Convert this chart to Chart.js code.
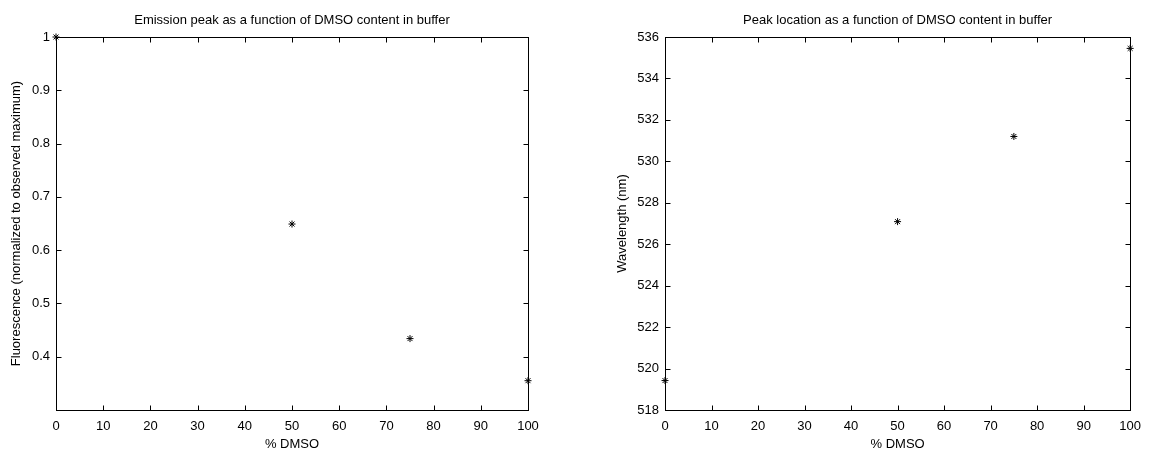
<!DOCTYPE html>
<html>
<head>
<meta charset="utf-8">
<script src="https://cdn.jsdelivr.net/npm/chart.js@4/dist/chart.umd.min.js"></script>
<style>
  html, body { margin: 0; padding: 0; background: #fff; }
  .box { position: absolute; top: 0; width: 575px; height: 452px; }
  #leftBox { left: 0; }
  #rightBox { left: 575px; }
</style>
</head>
<body>
<div class="box" id="leftBox"><canvas id="emissionChart"></canvas></div>
<div class="box" id="rightBox"><canvas id="peakChart"></canvas></div>
<script>
// --- data ---
const dmso = [0, 50, 75, 100];
const fluorescence = [1.0, 0.649, 0.434, 0.355];
const wavelength = [519.42, 527.09, 531.2, 535.45];

const xTicks = [0, 10, 20, 30, 40, 50, 60, 70, 80, 90, 100];
const fluorTicks = [0.4, 0.5, 0.6, 0.7, 0.8, 0.9, 1];
const waveTicks = [518, 520, 522, 524, 526, 528, 530, 532, 534, 536];

const FONT = 'Liberation Sans, Arial, Helvetica, sans-serif';
const FS = 13;

// box + inward ticks + title, matlab style
const matlabBox = {
  id: 'matlabBox',
  afterDraw(chart, args, opts) {
    const { ctx, chartArea: a, scales } = chart;
    const L = Math.round(a.left) + 0.5, R = Math.round(a.right) + 0.5;
    const T = Math.round(a.top) + 0.5, B = Math.round(a.bottom) + 0.5;
    ctx.save();
    ctx.strokeStyle = '#000';
    ctx.lineWidth = 1;
    ctx.strokeRect(L, T, R - L, B - T);
    ctx.beginPath();
    scales.x.ticks.forEach(t => {
      const px = Math.round(scales.x.getPixelForValue(t.value)) + 0.5;
      ctx.moveTo(px, B); ctx.lineTo(px, B - 5);
      ctx.moveTo(px, T); ctx.lineTo(px, T + 5);
    });
    scales.y.ticks.forEach(t => {
      const py = Math.round(scales.y.getPixelForValue(t.value)) + 0.5;
      ctx.moveTo(L, py); ctx.lineTo(L + 5, py);
      ctx.moveTo(R, py); ctx.lineTo(R - 5, py);
    });
    ctx.stroke();

    ctx.fillStyle = '#000';
    ctx.font = FS + 'px ' + FONT;
    ctx.textAlign = 'center';
    ctx.textBaseline = 'middle';
    ctx.fillText(opts.text, (a.left + a.right) / 2, 20);
    ctx.restore();
  }
};

function makeChart(id, yData, yTicks, yMin, yMax, yTitle, titleText, yWidth, padRight, yTitlePad) {
  const ctx = document.getElementById(id).getContext('2d');
  return new Chart(ctx, {
    type: 'scatter',
    data: {
      datasets: [{
        data: dmso.map((x, i) => ({ x, y: yData[i] })),
        pointStyle: 'star',
        pointRadius: 3.5,
        pointHoverRadius: 3.5,
        borderColor: '#000',
        backgroundColor: '#000',
        borderWidth: 1,
        showLine: false,
        clip: false
      }]
    },
    options: {
      responsive: true,
      maintainAspectRatio: false,
      animation: false,
      events: [],
      layout: { padding: { top: 37, right: padRight, bottom: 0, left: 0 } },
      plugins: {
        legend: { display: false },
        tooltip: { enabled: false },
        matlabBox: { text: titleText }
      },
      scales: {
        x: {
          type: 'linear',
          min: 0,
          max: 100,
          afterBuildTicks: s => { s.ticks = xTicks.map(v => ({ value: v })); },
          afterFit: s => { s.height = 42; },
          grid: { display: false, drawTicks: false },
          border: { display: false },
          ticks: { color: '#000', padding: 9, font: { family: FONT, size: FS }, maxRotation: 0 },
          title: { display: true, text: '% DMSO', color: '#000', padding: { top: 0, bottom: 0 }, font: { family: FONT, size: FS } }
        },
        y: {
          type: 'linear',
          min: yMin,
          max: yMax,
          afterBuildTicks: s => { s.ticks = yTicks.map(v => ({ value: v })); },
          afterFit: s => { s.width = yWidth; },
          grid: { display: false, drawTicks: false },
          border: { display: false },
          ticks: { color: '#000', padding: 6, font: { family: FONT, size: FS }, callback: v => String(+v.toFixed(2)) },
          title: { display: true, text: yTitle, color: '#000', padding: { top: yTitlePad, bottom: 0 }, font: { family: FONT, size: FS } }
        }
      }
    },
    plugins: [matlabBox]
  });
}

makeChart('emissionChart', fluorescence, fluorTicks, 0.3, 1.0,
  'Fluorescence (normalized to observed maximum)',
  'Emission peak as a function of DMSO content in buffer', 56, 47, 9);

makeChart('peakChart', wavelength, waveTicks, 518, 536,
  'Wavelength (nm)',
  'Peak location as a function of DMSO content in buffer', 90, 12, 40);
</script>
</body>
</html>
